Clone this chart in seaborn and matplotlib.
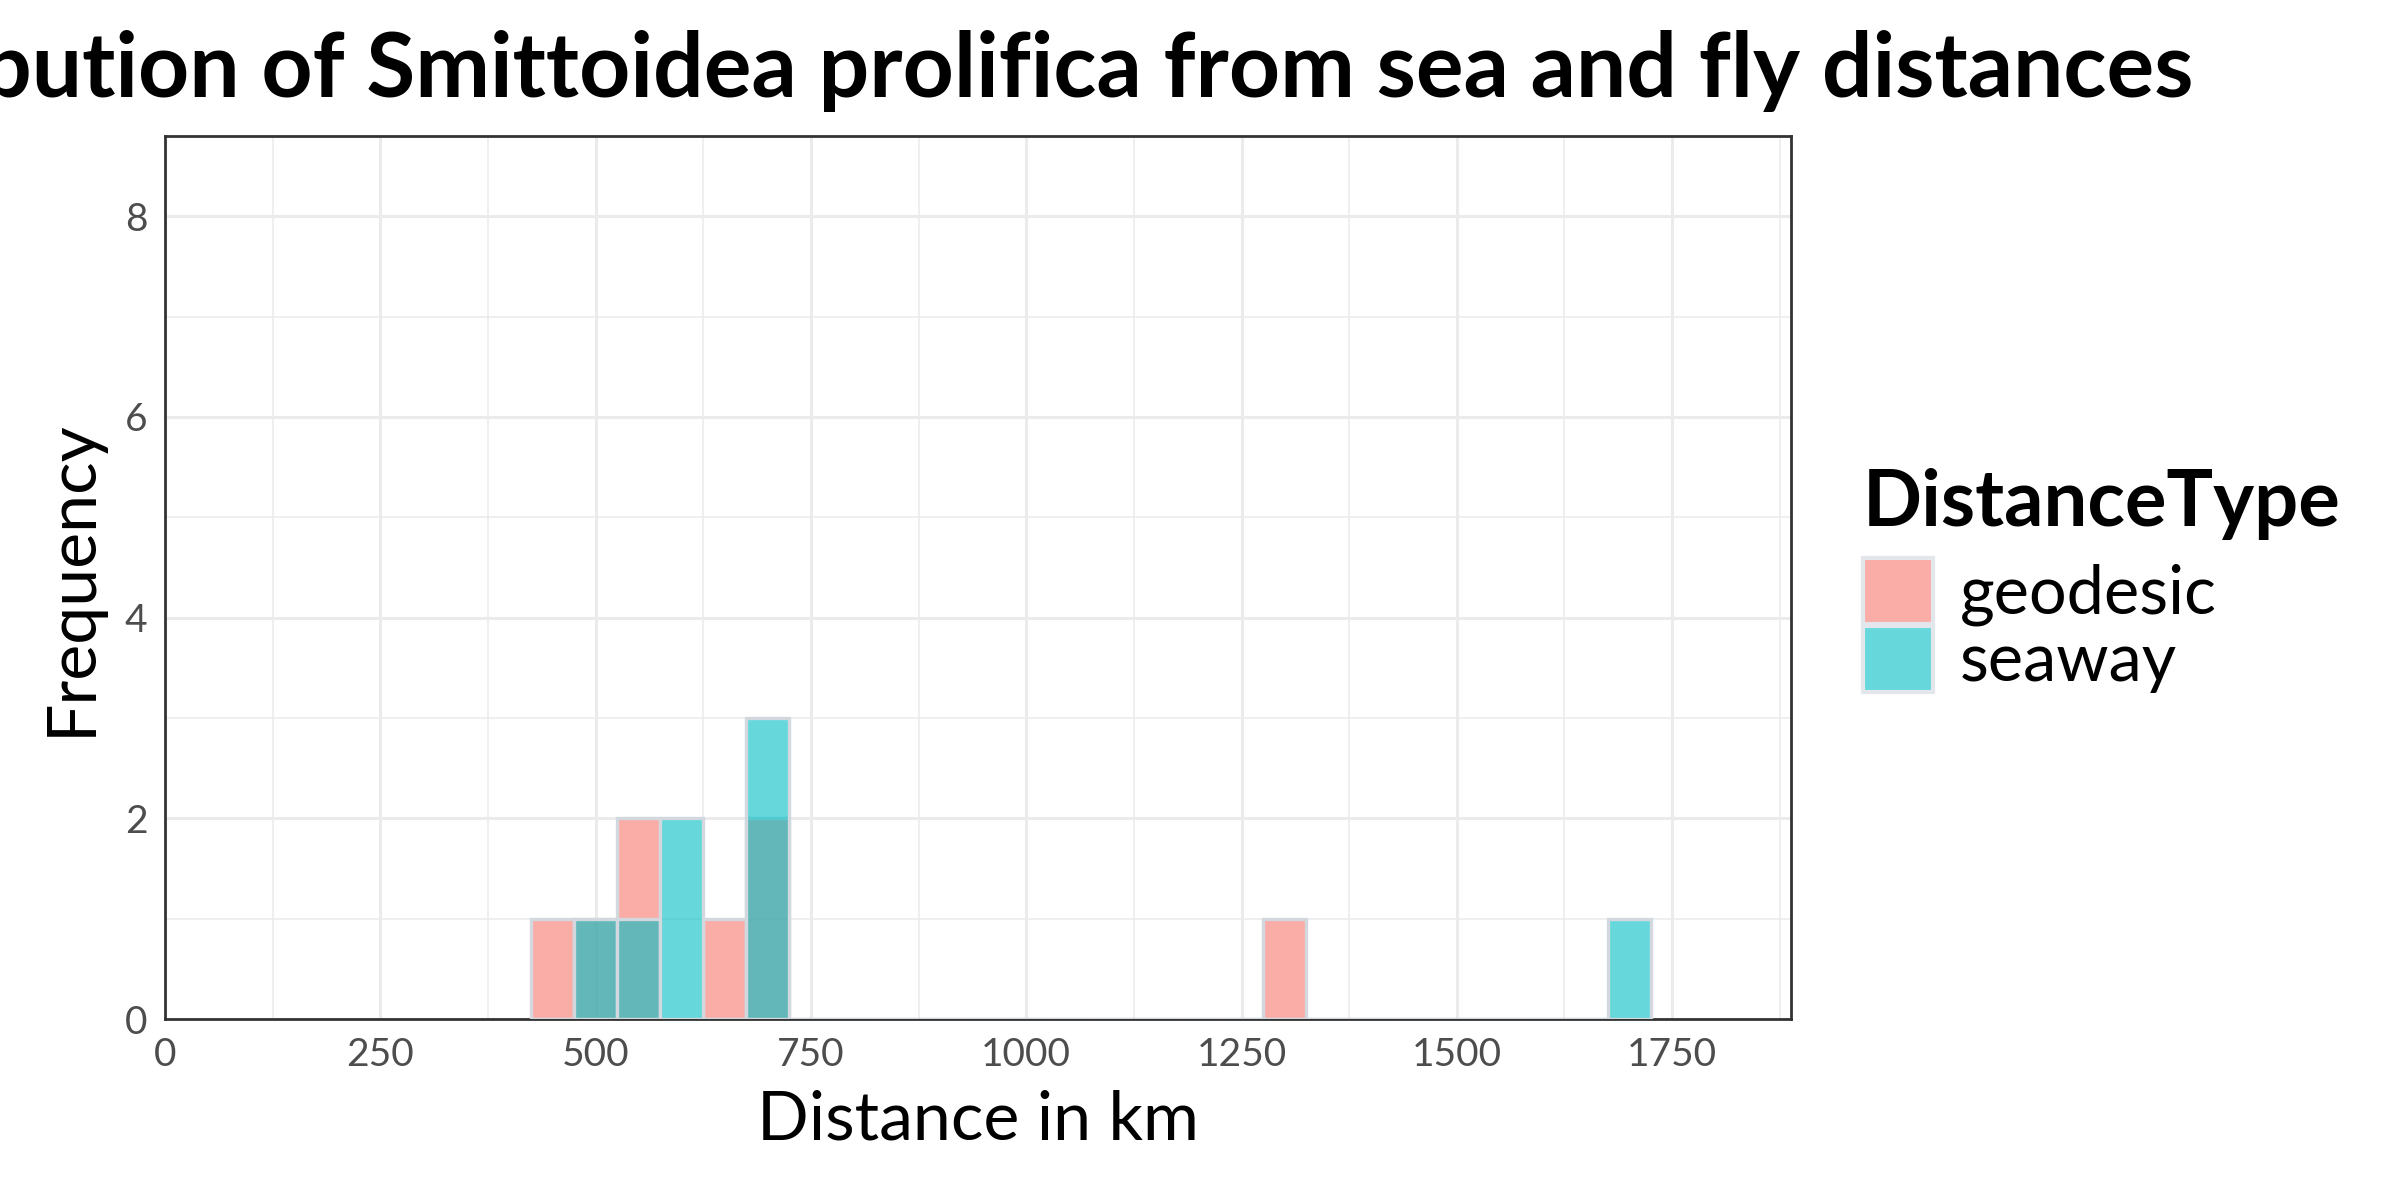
import numpy as np
import pandas as pd
import matplotlib
matplotlib.use("Agg")
import matplotlib.pyplot as plt
import seaborn as sns
from matplotlib.patches import Patch
from matplotlib.colors import to_rgba
from matplotlib.ticker import FixedLocator, MultipleLocator

# ---- data ----
title_text = "Distribution of Smittoidea prolifica from sea and fly distances"
distance_types = ["geodesic", "seaway"]
geodesic_km = [450, 500, 550, 550, 650, 700, 700, 1300]
seaway_km = [500, 550, 600, 600, 700, 700, 700, 1700]
x_ticks = [0, 250, 500, 750, 1000, 1250, 1500, 1750]
y_ticks = [0, 2, 4, 6, 8]
palette = {"geodesic": "#F8766D", "seaway": "#00BFC4"}

df = pd.DataFrame({
    "Distance": geodesic_km + seaway_km,
    "DistanceType": ["geodesic"] * len(geodesic_km) + ["seaway"] * len(seaway_km),
})

sns.set_theme(style="white")
plt.rcParams["font.family"] = ["Lato", "DejaVu Sans"]
plt.rcParams["text.color"] = "black"

W, H = 2400, 1200
fig = plt.figure(figsize=(12, 6), dpi=200)
L, R, T, B = 165, 1791, 136, 1019
ax = fig.add_axes([L / W, 1 - B / H, (R - L) / W, (B - T) / H])

bin_edges = np.arange(425, 1775, 50)
for t in distance_types:
    sns.histplot(data=df[df["DistanceType"] == t], x="Distance", bins=bin_edges,
                 color=palette[t], alpha=0.6, edgecolor="#D3D8DE", linewidth=1.2,
                 ax=ax, zorder=3)

ax.set_xlim(0, 1888)
ax.set_ylim(0, 8.8)
ax.xaxis.set_major_locator(FixedLocator(x_ticks))
ax.yaxis.set_major_locator(FixedLocator(y_ticks))
ax.xaxis.set_minor_locator(MultipleLocator(125))
ax.yaxis.set_minor_locator(MultipleLocator(1))
ax.set_axisbelow(True)
ax.grid(which="major", color="#EBEBEB", linewidth=1.1, zorder=0)
ax.grid(which="minor", color="#EBEBEB", linewidth=0.55, zorder=0)
ax.tick_params(which="minor", length=0)
ax.tick_params(which="major", length=4.3, width=1.1, color="#333333",
               labelsize=14, labelcolor="#4D4D4D", pad=2)
for s in ax.spines.values():
    s.set_color("#333333")
    s.set_linewidth(1.0)

ax.set_xlabel("Distance in km", fontsize=24.5, color="black", labelpad=6)
ax.set_ylabel("Frequency", fontsize=24.5, color="black", labelpad=8)

ttl = ax.set_title(title_text, fontsize=30, fontweight="bold", pad=14,
                   loc="center", color="black")
fig.canvas.draw()
w = ttl.get_window_extent().width
ttl.set_fontsize(30 * 2428 / w)

handles = [Patch(facecolor=to_rgba(palette[t], 0.6), edgecolor="#E3E6EA",
                 linewidth=1.5, label=t) for t in distance_types]
leg = fig.legend(handles=handles, title="DistanceType", loc="upper left",
                 bbox_to_anchor=(1863 / W, 1 - 468 / H), frameon=False,
                 fontsize=24, title_fontproperties={"weight": "bold", "size": 28},
                 handlelength=1.05, handleheight=1.14, handletextpad=0.4,
                 labelspacing=0.0, borderpad=0, borderaxespad=0, alignment="left")
leg.get_title().set_color("black")
for txt in leg.get_texts():
    txt.set_color("black")
leg._legend_box.sep = 6.5

fig.savefig("out.png", dpi=200)
